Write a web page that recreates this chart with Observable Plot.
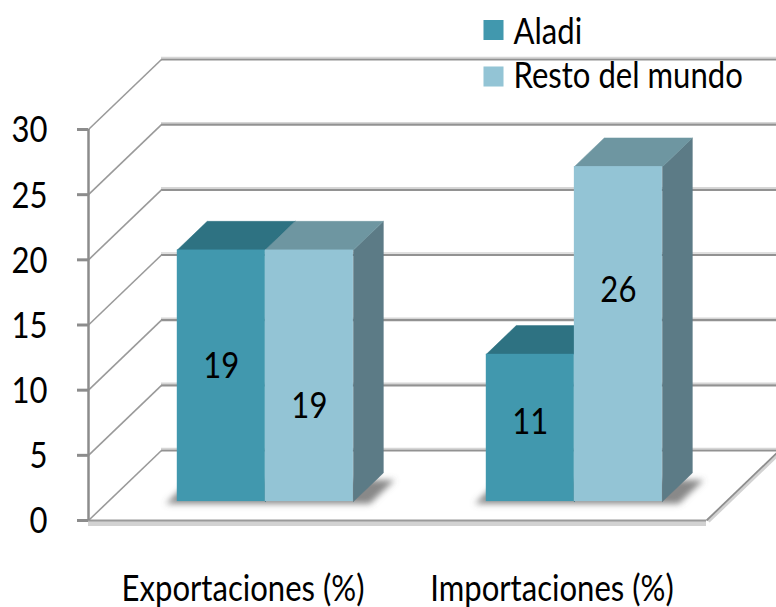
<!DOCTYPE html>
<html><head><meta charset="utf-8">
<script src="https://cdn.jsdelivr.net/npm/d3@7"></script>
<script src="https://cdn.jsdelivr.net/npm/@observablehq/plot@0.6"></script>
<style>
html,body{margin:0;padding:0;background:#fff;}
#chart{width:776px;height:607px;}
</style></head><body><div id="chart"></div>
<script>
// ---- data ----
const categories = ["Exportaciones (%)", "Importaciones (%)"];
const series = ["Aladi", "Resto del mundo"];
const aladi = [19.3, 11.3];
const resto = [19.3, 25.7];
const yTicks = [0, 5, 10, 15, 20, 25, 30];

// ---- style / layout ----
const frontColors = ["#4198AE", "#93C4D5"];
const topColors = ["#2E7282", "#6E96A1"];
const sideColors = ["#2A6575", "#5C7B86"];
const shadowColor = "#6a6a6b";
const labelAt = [[0.54, 0.38], [0.54, 0.63]]; // label height as share of bar
const kx = 0.2362, ky = 5.371;   // oblique depth direction (data units per unit depth)
const d1 = 0.27, d2 = 0.68;      // bar front / back depth
const squeeze = 0.84;            // horizontal text compression

const values = [aladi, resto];
const xBand = d3.scaleBand(categories, [0, 2]).paddingInner(0.43).paddingOuter(0.215).align(0.52);
const sBand = d3.scaleBand(series, [0, xBand.bandwidth()]);

const rows = categories.flatMap((c, i) => series.map((s, j) => {
  const xl = xBand(c) + sBand(s), xr = xl + sBand.bandwidth(), v = values[j][i];
  return {category: c, series: s, value: v, i, j, xl, xr};
}));

const P = (x, v, d) => ({x: x + d * kx, y: v + d * ky});

const sides = rows.flatMap((r, k) => [
  P(r.xr, 0, d1), P(r.xr, r.value, d1), P(r.xr, r.value, d2), P(r.xr, 0, d2), P(r.xr, 0, d1)
].map(p => ({...p, id: "s" + k, color: sideColors[r.j]})));
const tops = rows.flatMap((r, k) => [
  P(r.xl, r.value, d1), P(r.xr, r.value, d1), P(r.xr, r.value, d2), P(r.xl, r.value, d2), P(r.xl, r.value, d1)
].map(p => ({...p, id: "t" + k, color: topColors[r.j]})));
const shadows = categories.flatMap((c, i) => {
  const a = xBand(c) - 0.03, b = xBand(c) + xBand.bandwidth() + 0.06;
  return [P(a, 0, d1 - 0.03), P(b, 0, d1 - 0.03), P(b, 0, d2 - 0.1), P(a, 0, d2 - 0.1), P(a, 0, d1 - 0.03)]
    .map(p => ({...p, id: "sh" + i}));
});
const floor = [P(0, 0, 0), P(2, 0, 0), P(2, 0, 1), P(0, 0, 1), P(0, 0, 0)];

const chart = Plot.plot({
  width: 776, height: 607,
  marginTop: 0, marginRight: 0, marginBottom: 0, marginLeft: 0,
  x: {type: "linear", domain: [0, 2], range: [88, 706], axis: null},
  y: {type: "linear", domain: [0, 30], range: [520, 129], axis: null},
  style: {fontFamily: "Lato", fontSize: "37px", background: "#fff", color: "#000"},
  marks: [
    // floor
    Plot.line(floor, {x: "x", y: "y", fill: "#fff", stroke: "none"}),
    Plot.ruleY([0], {x1: 0, x2: 2, stroke: "#d2d2d2", strokeWidth: 5, dy: 3}),
    Plot.link([0], {x1: 2, y1: 0, x2: 2 + kx, y2: ky, stroke: "#d2d2d2", strokeWidth: 3, dx: 2, dy: 1}),
    Plot.link([0], {x1: 2, y1: 0, x2: 2 + kx, y2: ky, stroke: "#8e8e8e", strokeWidth: 1.8}),
    Plot.ruleY([0], {x1: 0, x2: 2, stroke: "#9a9a9a", strokeWidth: 2}),
    // back wall gridlines
    Plot.ruleY(yTicks, {y: d => d + ky, x1: kx, x2: 2 + kx, stroke: "#d6d6d6", strokeWidth: 1.5, dy: -2}),
    Plot.ruleY(yTicks, {y: d => d + ky, x1: kx, x2: 2 + kx, stroke: "#929292", strokeWidth: 2.2}),
    // side wall gridlines
    Plot.link(yTicks, {x1: 0, y1: d => d, x2: kx, y2: d => d + ky, stroke: "#9a9a9a", strokeWidth: 1.6}),
    // front axis
    Plot.ruleX([0], {y1: 0, y2: 30, stroke: "#8c8c8c", strokeWidth: 2.5}),
    Plot.ruleY(yTicks, {y: d => d, x1: 0, x2: 0, insetLeft: -11, stroke: "#8c8c8c", strokeWidth: 3}),
    Plot.text(yTicks, {x: 0, y: d => d, text: d => String(d), textAnchor: "end", dx: -41, dy: 1, lineAnchor: "middle", fill: "#000"}),
    // bar shadows
    Plot.line(shadows, {x: "x", y: "y", z: "id", fill: shadowColor, fillOpacity: 0.8, stroke: "none"}),
    // bars
    Plot.line(sides, {x: "x", y: "y", z: "id", fill: "color", stroke: "color", strokeWidth: 0.5}),
    Plot.line(tops, {x: "x", y: "y", z: "id", fill: "color", stroke: "color", strokeWidth: 0.5}),
    Plot.rect(rows, {x1: r => r.xl + d1 * kx, x2: r => r.xr + d1 * kx, y1: d1 * ky, y2: r => r.value + d1 * ky,
      fill: r => frontColors[r.j]}),
    Plot.text(rows, {x: r => (r.xl + r.xr) / 2 + d1 * kx, y: r => d1 * ky + r.value * labelAt[r.i][r.j],
      text: r => d3.format(".0f")(r.value), lineAnchor: "middle", fill: "#000"}),
    // category labels
    Plot.text(categories, {x: (c, i) => (i + 0.5) * xBand.step(), frameAnchor: "bottom", lineAnchor: "bottom", dy: -7, fill: "#000"}),
    // legend
    ...series.map((s, j) => Plot.dot([s], {frameAnchor: "top-left", dx: 493, dy: 29.5 + j * 46.5, symbol: "square", r: 11.3, fill: frontColors[j], stroke: "none"})),
    ...series.map((s, j) => Plot.text([s], {frameAnchor: "top-left", dx: 513, dy: 43 + j * 44, textAnchor: "start", lineAnchor: "bottom", fill: "#000"}))
  ]
});
document.getElementById("chart").append(chart);
// soft blur for the bar shadows
const ns = "http://www.w3.org/2000/svg";
const defs = document.createElementNS(ns, "defs");
const filt = document.createElementNS(ns, "filter");
filt.setAttribute("id", "softshadow");
filt.setAttribute("x", "-20%"); filt.setAttribute("y", "-50%");
filt.setAttribute("width", "140%"); filt.setAttribute("height", "200%");
const blur = document.createElementNS(ns, "feGaussianBlur");
blur.setAttribute("stdDeviation", "3");
filt.append(blur); defs.append(filt); chart.prepend(defs);
chart.querySelectorAll("path").forEach(p => {
  if ((p.getAttribute("fill") || "").toLowerCase() === shadowColor) p.setAttribute("filter", "url(#softshadow)");
});
chart.querySelectorAll("g").forEach(g => {
  if ((g.getAttribute("fill") || "").toLowerCase() === shadowColor) g.setAttribute("filter", "url(#softshadow)");
});
// condensed lettering
chart.querySelectorAll("text").forEach(t => {
  const tr = t.getAttribute("transform");
  if (tr) t.setAttribute("transform", tr + ` scale(${squeeze},1)`);
  else {
    const w = t.getComputedTextLength();
    t.setAttribute("textLength", (w * squeeze).toFixed(1));
    t.setAttribute("lengthAdjust", "spacingAndGlyphs");
  }
});
</script></body></html>
